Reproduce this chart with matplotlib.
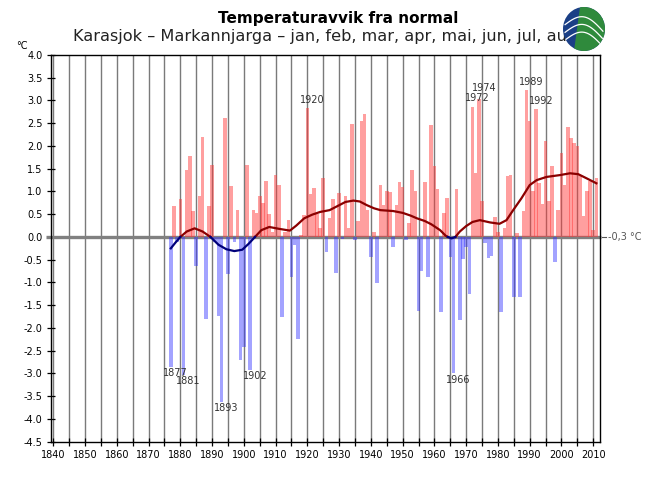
import numpy as np
import matplotlib
matplotlib.use("Agg")
import matplotlib.pyplot as plt
from matplotlib.patches import Ellipse, Polygon
from matplotlib.ticker import MultipleLocator
import matplotlib.transforms as mtransforms

# ---------------- data ----------------
years = list(range(1877, 2012))
anomaly = [
    -2.85, 0.67, -0.10, 0.83, -3.03, 1.47, 1.78, 0.56, -0.63, 0.90,   # 1877-1886
    2.20, -1.81, 0.67, 1.58, -0.10, -1.74, -3.62, 2.62, -0.82, 1.13,  # 1887-1896
    -0.10, 0.59, -2.70, -2.41, 1.58, -2.92, 0.60, 0.52, 0.91, 0.74,   # 1897-1906
    1.23, 0.50, 0.10, 1.36, 1.14, -1.76, 0.10, 0.37, -0.87, -0.18,    # 1907-1916
    -2.25, 0.05, 0.48, 2.83, 0.94, 1.08, 0.50, 0.20, 1.29, -0.32,     # 1917-1926
    0.42, 0.83, -0.80, 0.97, -0.05, 0.91, 0.20, 2.48, -0.06, 0.35,    # 1927-1936
    2.55, 2.70, 0.59, -0.43, 0.10, -1.02, 1.14, 0.70, 1.00, 0.98,     # 1937-1946
    -0.23, 0.70, 1.20, 1.10, -0.07, 0.30, 1.47, 1.01, -1.63, -0.74,   # 1947-1956
    1.20, -0.87, 2.46, 1.56, 1.05, -1.65, 0.52, 0.85, -0.45, -3.00,   # 1957-1966
    1.05, -1.82, -0.49, -0.23, -1.25, 2.86, 1.40, 3.03, 0.79, -0.14,  # 1967-1976
    -0.47, -0.41, 0.45, 0.10, -1.66, 0.20, 1.33, 1.36, -1.31, 0.08,   # 1977-1986
    -1.33, 0.57, 3.23, 2.56, 1.01, 2.81, 1.18, 0.73, 2.11, 0.79,      # 1987-1996
    1.55, -0.56, 0.59, 1.84, 1.14, 2.41, 2.17, 2.06, 2.00, 1.33,      # 1997-2006
    0.47, 1.00, 1.22, 0.15, 1.30,                                      # 2007-2011
]

smooth_years = [1877, 1878.5, 1880, 1882, 1884.5, 1887, 1889.5, 1892, 1894.5, 1897,
                1899.5, 1901.5, 1903.5, 1905.5, 1908, 1911, 1914.5, 1916.5, 1919, 1921.5,
                1924, 1927, 1929.5, 1932, 1934.5, 1936.5, 1938.7, 1941, 1943, 1947,
                1950, 1952.5, 1954.5, 1957, 1959, 1961.8, 1963.5, 1964.2, 1965.4, 1966.6,
                1968, 1970, 1972, 1974.3, 1977.5, 1980.5, 1982.7, 1984.8, 1987.4, 1990,
                1992.2, 1995.3, 1999.5, 2002.7, 2005.3, 2007.9, 2011]
smooth_vals = [-0.25, -0.12, 0.0, 0.12, 0.19, 0.12, 0.0, -0.17, -0.27, -0.31,
               -0.28, -0.15, 0.0, 0.15, 0.22, 0.18, 0.14, 0.25, 0.41, 0.49,
               0.55, 0.59, 0.68, 0.77, 0.80, 0.78, 0.70, 0.63, 0.59, 0.57,
               0.53, 0.47, 0.41, 0.35, 0.28, 0.15, 0.03, 0.0, -0.03, 0.0,
               0.12, 0.24, 0.33, 0.37, 0.32, 0.29, 0.37, 0.59, 0.85, 1.14,
               1.25, 1.32, 1.36, 1.40, 1.38, 1.29, 1.18]

labelled_years = [1877, 1881, 1893, 1902, 1966, 1920, 1972, 1974, 1989, 1992]
yticks = [-4.5, -4.0, -3.5, -3.0, -2.5, -2.0, -1.5, -1.0, -0.5, 0.0,
          0.5, 1.0, 1.5, 2.0, 2.5, 3.0, 3.5, 4.0]
xtick_labels = list(range(1840, 2011, 10))

title = "Temperaturavvik fra normal"
subtitle = "Karasjok – Markannjarga – jan, feb, mar, apr, mai, jun, jul, aug"
normal_label = "-0,3 °C"

# ---------------- figure ----------------
W, H = 650, 500
fig = plt.figure(figsize=(W / 100, H / 100), dpi=100)
ax = fig.add_axes([50.7 / W, 1 - 441.7 / H, (600 - 50.7) / W, (441.7 - 55) / H])

yrs = np.array(years)
vals = np.array(anomaly)
colors = [(1.0, 0.22, 0.22, 0.48) if v >= 0 else (0.2, 0.2, 1.0, 0.45) for v in vals]
ax.bar(yrs, vals, width=1.12, color=colors, linewidth=0, zorder=3)

# vertical grid lines every 5 years
for gx in range(1840, 2011, 5):
    ax.axvline(gx, color="#7a7a7a", lw=1.0, zorder=1)

# zero line
ax.plot([1837.8, 2012.3], [0, 0], color="#808080", lw=2.4, zorder=2,
        clip_on=False, solid_capstyle="butt")

# smoothed curve, coloured by sign
sy = np.array(smooth_years)
sv = np.array(smooth_vals)
pos = np.where(sv >= 0, sv, np.nan)
neg = np.where(sv <= 0, sv, np.nan)
ax.plot(sy, pos, color="#8b0000", lw=1.6, zorder=5)
ax.plot(sy, neg, color="#00007a", lw=1.6, zorder=5)

# labels of extreme years
for yl in labelled_years:
    v = vals[years.index(yl)]
    if v >= 0:
        dy = 4.5 if yl == 1974 else 2.5
        ax.annotate(str(yl), (yl, v), xytext=(3.6, dy), textcoords="offset points",
                    ha="center", va="bottom", fontsize=7, color="#333333", zorder=6)
    else:
        ax.annotate(str(yl), (yl, v), xytext=(3.4, -1.0), textcoords="offset points",
                    ha="center", va="top", fontsize=7, color="#333333", zorder=6)

ax.set_xlim(1839.18, 2012.14)
ax.set_ylim(-4.5, 4.0)
ax.set_yticks(yticks)
ax.set_yticklabels([f"{t:.1f}" for t in yticks])
ax.xaxis.set_minor_locator(MultipleLocator(5))
ax.set_xticks(xtick_labels)
ax.set_xticklabels([str(x) for x in xtick_labels])
ax.tick_params(axis="both", which="both", direction="inout", length=6, width=0.9,
               labelsize=7, colors="black")
ax.tick_params(axis="x", pad=3)
ax.tick_params(axis="y", pad=3)
for s in ax.spines.values():
    s.set_color("black")
    s.set_linewidth(1.0)
    s.set_zorder(7)

# normal label on the right
trans = mtransforms.blended_transform_factory(ax.transAxes, ax.transData)
ax.plot([1.003, 1.011], [0, 0], color="#555555", lw=0.8, transform=trans, clip_on=False)
ax.text(1.014, 0, normal_label, transform=trans, fontsize=7, color="#555555",
        ha="left", va="center")

# unit label
fig.text(22 / W, 1 - 46 / H, "°C", fontsize=7, ha="center", va="center")

# titles
fig.text(338 / W, 1 - 18 / H, title, fontsize=11, fontweight="bold",
         ha="center", va="center", zorder=1)
fig.text(73 / W, 1 - 36 / H, subtitle, fontsize=11.6, ha="left", va="center",
         zorder=1, color="#222222")

# logo
cx, cy, rx, ry = 584 / W, 1 - 29 / H, 21 / W, 22 / H
base = Ellipse((cx, cy), 2 * rx, 2 * ry, transform=fig.transFigure,
               facecolor="#1b3f86", edgecolor="none", zorder=10)
fig.add_artist(base)
green = Polygon([(cx - 0.2 * rx, cy + ry), (cx + rx, cy + ry), (cx + rx, cy - ry),
                 (cx - 0.5 * rx, cy - ry)], closed=True, facecolor="#2f8a3c",
                edgecolor="none", transform=fig.transFigure, zorder=11)
green.set_clip_path(base)
fig.add_artist(green)
th = np.linspace(0, 1, 40)
for k, off in enumerate([-0.5, -0.15, 0.2]):
    xs = cx + rx * (-0.9 + 1.8 * th)
    ys = cy + ry * (off + 0.5 * np.sin(np.pi * th) - 0.3 * th)
    ln = plt.Line2D(xs, ys, transform=fig.transFigure, color="white", lw=0.9, zorder=12)
    ln.set_clip_path(base)
    fig.add_artist(ln)

fig.savefig("out.png", dpi=100, facecolor="white")
